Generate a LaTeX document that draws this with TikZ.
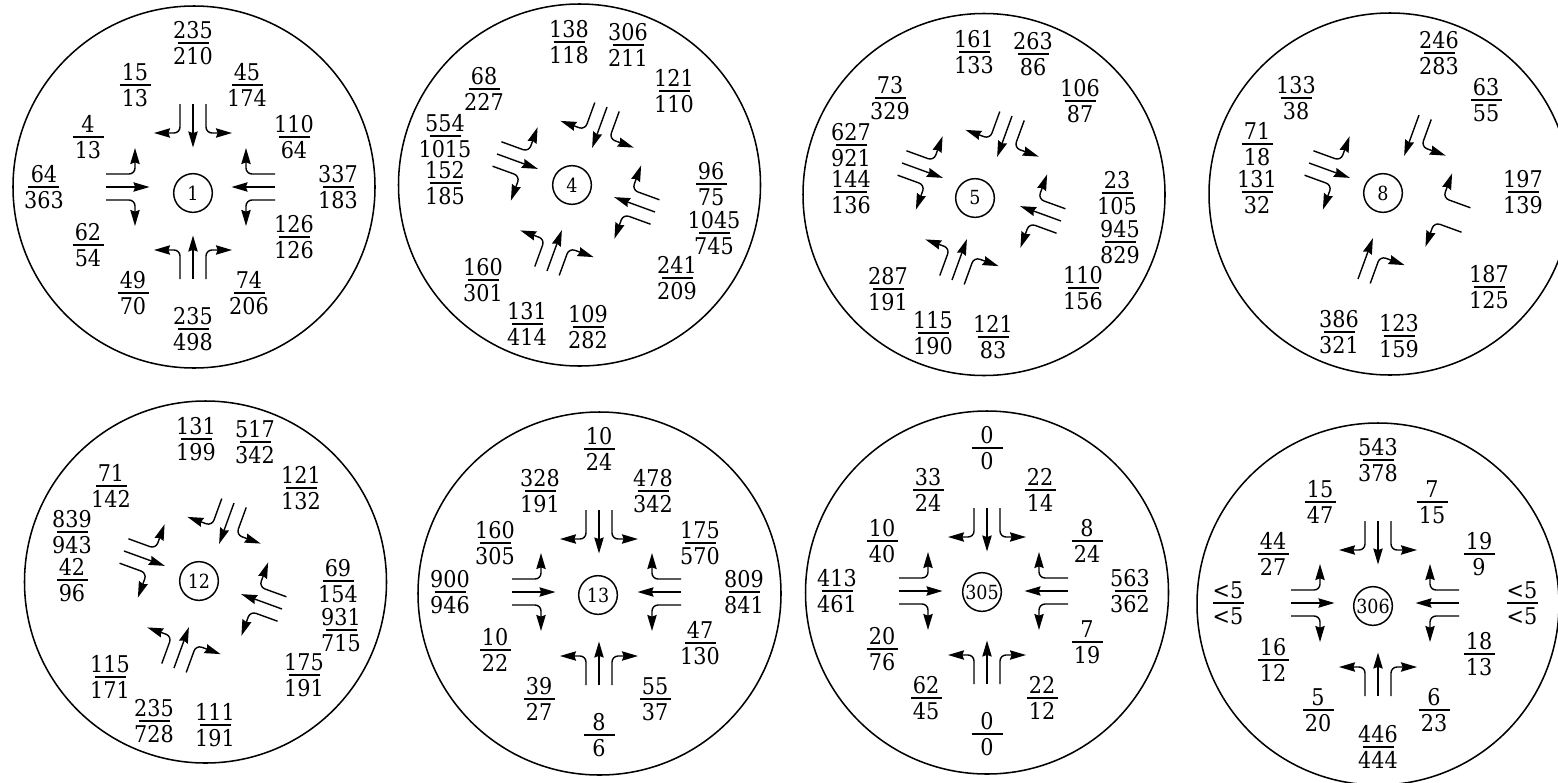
\documentclass[tikz,border=0pt]{standalone}
\usepackage{fontspec}
\setmainfont[FakeStretch=0.9]{DejaVu Serif}
\usetikzlibrary{arrows.meta}
\newcount\fracno
\newcount\laneno
\newcommand{\fracbody}[2]{\vbox{\baselineskip=0pt\lineskip=0pt\lineskiplimit=-100pt\offinterlineskip
  \hbox to 23.25pt{\hss\vphantom{0}#1\hss}\kern2.45pt\hrule width 23.25pt height 1.05pt\kern2.45pt
  \hbox to 23.25pt{\hss\vphantom{0}#2\hss}}}
\newcommand{\frc}[4]{\global\advance\fracno by 1
  \node[fracnode] (f\the\fracno) at (#1,#2) {\fracbody{#3}{#4}};}
\newcommand{\ring}[7]{% big cx,cy,R ; small x,y ; label ; name
  \node[bigring,minimum size=#3*1.5pt] (big#7) at (#1,#2) {};
  \node[smallring] (hub#7) at (#4,#5) {#6};}
% lanes{x}{y}{angle}{left}{straight}{right}
\newcommand{\lanes}[6]{\global\advance\laneno by 1
  \begin{scope}[shift={(#1,#2)},y=0.75pt,rotate=#3]
    \coordinate (ls\the\laneno) at (0,0);
    \coordinate (le\the\laneno) at (43.5,0);
    \coordinate (ll\the\laneno) at (0,13);
    \coordinate (lc\the\laneno) at (29,13);
    \coordinate (lt\the\laneno) at (29,39);
    \coordinate (rl\the\laneno) at (0,-13);
    \coordinate (rc\the\laneno) at (29,-13);
    \coordinate (rt\the\laneno) at (29,-39);
    \ifnum#4=1 \draw[lane,rounded corners=4.5pt] (ll\the\laneno) -- (lc\the\laneno) -- (lt\the\laneno);\fi
    \ifnum#5=1 \draw[lane] (ls\the\laneno) -- (le\the\laneno);\fi
    \ifnum#6=1 \draw[lane,rounded corners=4.5pt] (rl\the\laneno) -- (rc\the\laneno) -- (rt\the\laneno);\fi
  \end{scope}}
\tikzset{
  lane/.style={line width=1.05pt,-{Stealth[length=12pt,width=7pt,inset=1.2pt]}},
  bigring/.style={draw,circle,line width=1.15pt,inner sep=0pt,outer sep=0pt},
  smallring/.style={draw,circle,line width=1.1pt,minimum size=29pt,inner sep=0pt,font=\fontsize{14.6}{15}\selectfont},
  fracnode/.style={inner sep=0pt,outer sep=0pt}
}
\begin{document}
\begin{tikzpicture}[x=0.75pt,y=-0.75pt,font=\fontsize{17.3}{18}\selectfont]
\useasboundingbox (0,0) rectangle (1558,782);
\clip (0,0) rectangle (1558,782);
% 1
\ring{194}{187}{181}{193}{193}{1}{a}
\lanes{193}{104}{-90}{1}{1}{1}\lanes{193}{279}{90}{1}{1}{1}\lanes{106}{187}{0}{1}{1}{1}\lanes{275}{187}{180}{1}{1}{1}
\frc{193}{43}{235}{210}\frc{135}{85}{15}{13}\frc{247}{85}{45}{174}\frc{88}{137}{4}{13}\frc{294}{137}{110}{64}
\frc{44}{187}{64}{363}\frc{338}{187}{337}{183}\frc{88}{245}{62}{54}\frc{294}{237}{126}{126}\frc{133}{293}{49}{70}
\frc{249}{293}{74}{206}\frc{193}{329}{235}{498}
% 4
\ring{579.5}{185}{181}{572}{185}{4}{b}
\lanes{497}{154}{-20}{1}{1}{1}\lanes{607}{107}{-110}{1}{1}{1}\lanes{655}{212}{160}{1}{1}{1}\lanes{547}{271}{70}{1}{1}{1}
\frc{569}{42}{138}{118}\frc{628}{45}{306}{211}\frc{484}{89}{68}{227}\frc{674}{91}{121}{110}\frc{445}{136}{554}{1015}
\frc{445}{183}{152}{185}\frc{711}{184}{96}{75}\frc{714}{233}{1045}{745}\frc{677}{278}{241}{209}\frc{483}{280}{160}{301}
\frc{527}{324}{131}{414}\frc{588}{327}{109}{282}
% 5
\ring{984}{194.5}{181}{975}{198}{5}{c}
\lanes{902}{163}{-20}{1}{1}{1}\lanes{1012}{116}{-110}{1}{1}{1}\lanes{1061}{221}{160}{1}{1}{1}\lanes{952}{280}{70}{1}{1}{1}
\frc{974}{52}{161}{133}\frc{1033}{54}{263}{86}\frc{890}{98}{73}{329}\frc{1080}{101}{106}{87}\frc{851}{145}{627}{921}
\frc{851}{192}{144}{136}\frc{1117}{193}{23}{105}\frc{1120}{242}{945}{829}\frc{1083}{288}{110}{156}\frc{888}{289}{287}{191}
\frc{933}{333}{115}{190}\frc{993}{337}{121}{83}
% 8
\ring{1390}{194}{181}{1383}{193}{8}{d}
\lanes{1309}{163}{-20}{1}{1}{1}\lanes{1419}{115}{-110}{1}{1}{0}\lanes{1466}{220}{160}{1}{0}{1}\lanes{1358}{279}{70}{0}{1}{1}
\frc{1439}{53}{246}{283}\frc{1296}{98}{133}{38}\frc{1486}{100}{63}{55}\frc{1257}{144}{71}{18}\frc{1257}{192}{131}{32}
\frc{1523}{192}{197}{139}\frc{1489}{287}{187}{125}\frc{1339}{332}{386}{321}\frc{1399}{336}{123}{159}
% 12
\ring{205.5}{582}{181}{199}{581}{12}{e}
\lanes{124}{551}{-20}{1}{1}{1}\lanes{234}{503}{-110}{1}{1}{1}\lanes{282}{609}{160}{1}{1}{1}\lanes{174}{668}{70}{1}{1}{1}
\frc{196}{439}{131}{199}\frc{255}{442}{517}{342}\frc{111}{486}{71}{142}\frc{301}{488}{121}{132}\frc{72}{532}{839}{943}
\frc{72}{580}{42}{96}\frc{338}{581}{69}{154}\frc{341}{630}{931}{715}\frc{304}{675}{175}{191}\frc{110}{677}{115}{171}
\frc{154}{721}{235}{728}\frc{215}{725}{111}{191}
% 13
\ring{599.5}{593.5}{181.5}{598}{595}{13}{g}
\lanes{599}{510}{-90}{1}{1}{1}\lanes{599}{685}{90}{1}{1}{1}\lanes{512}{592}{0}{1}{1}{1}\lanes{681}{592}{180}{1}{1}{1}
\frc{599}{449}{10}{24}\frc{540}{491}{328}{191}\frc{653}{491}{478}{342}\frc{495}{543}{160}{305}\frc{700}{543}{175}{570}
\frc{450}{592}{900}{946}\frc{744}{592}{809}{841}\frc{495}{650}{10}{22}\frc{700}{643}{47}{130}\frc{539}{699}{39}{27}
\frc{655}{699}{55}{37}\frc{599}{735}{8}{6}
% 305
\ring{987}{592.5}{181.5}{982}{592}{305}{h}
\lanes{987}{508}{-90}{1}{1}{1}\lanes{987}{684}{90}{1}{1}{1}\lanes{899}{591}{0}{1}{1}{1}\lanes{1068}{591}{180}{1}{1}{1}
\frc{987}{448}{0}{0}\frc{928}{490}{33}{24}\frc{1040}{490}{22}{14}\frc{882}{541}{10}{40}\frc{1087}{541}{8}{24}
\frc{837}{591}{413}{461}\frc{1130}{591}{563}{362}\frc{882}{649}{20}{76}\frc{1087}{642}{7}{19}\frc{926}{698}{62}{45}
\frc{1042}{698}{22}{12}\frc{987}{734}{0}{0}
% 306
\ring{1378}{604}{181}{1373}{606}{306}{i}
\lanes{1378}{521}{-90}{1}{1}{1}\lanes{1378}{696}{90}{1}{1}{1}\lanes{1291}{603}{0}{1}{1}{1}\lanes{1459}{603}{180}{1}{1}{1}
\frc{1378}{460}{543}{378}\frc{1320}{502}{15}{47}\frc{1432}{502}{7}{15}\frc{1273}{554}{44}{27}\frc{1479}{554}{19}{9}
\frc{1228}{603}{<5}{<5}\frc{1522}{603}{<5}{<5}\frc{1273}{660}{16}{12}\frc{1479}{654}{18}{13}\frc{1318}{710}{5}{20}
\frc{1434}{710}{6}{23}\frc{1378}{747}{446}{444}
\end{tikzpicture}
\end{document}
